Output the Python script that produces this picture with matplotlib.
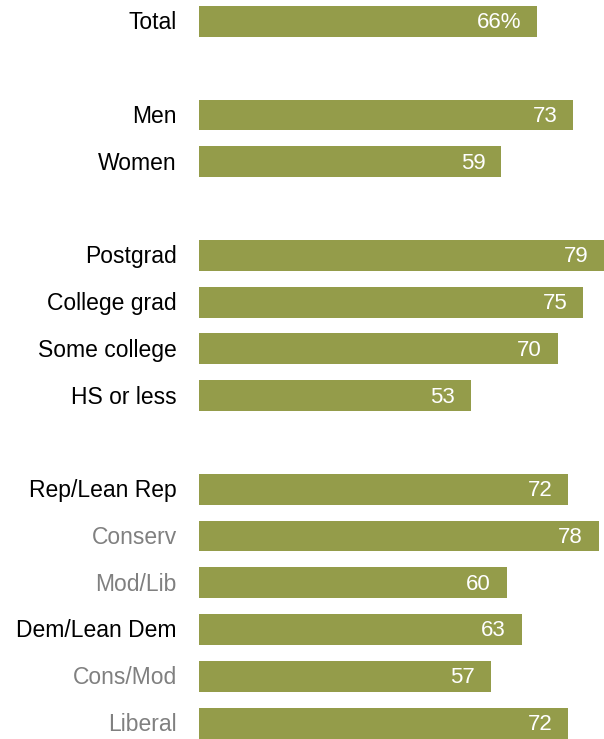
import matplotlib.pyplot as plt

# groups are separated by an empty slot
labels = ["Total", None, "Men", "Women", None,
          "Postgrad", "College grad", "Some college", "HS or less", None,
          "Rep/Lean Rep", "Conserv", "Mod/Lib",
          "Dem/Lean Dem", "Cons/Mod", "Liberal"]
values = [66, None, 73, 59, None, 79, 75, 70, 53, None, 72, 78, 60, 63, 57, 72]
sublabels = ["Conserv", "Mod/Lib", "Cons/Mod", "Liberal"]

bar_color = "#949c4a"
plt.rcParams["font.family"] = ["Liberation Sans", "DejaVu Sans"]

fig = plt.figure(figsize=(6.04, 7.39), dpi=100)
ax = fig.add_axes([199 / 604, 0, 1 - 199 / 604, 1])

for i, (lab, v) in enumerate(zip(labels, values)):
    if lab is None:
        continue
    ax.barh(i, v, height=0.66, color=bar_color)
    txt = f"{v}%" if lab == "Total" else str(v)
    ax.annotate(txt, (v, i), xytext=(-11.5, -1), textcoords="offset points",
                ha="right", va="center", color="white", fontsize=16)
    ax.annotate(lab, (0, i), xytext=(-16, -1), textcoords="offset points",
                ha="right", va="center", fontsize=16.5,
                color="#808080" if lab in sublabels else "black",
                annotation_clip=False)

ax.set_xlim(0, 79)
ax.set_ylim(15.34, -0.46)
ax.axis("off")

fig.savefig("out.png", dpi=100)
